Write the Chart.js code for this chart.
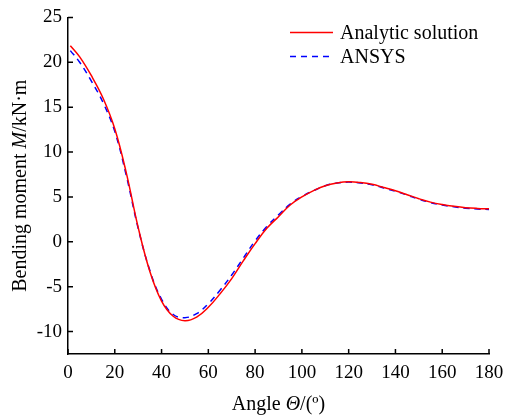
<!DOCTYPE html>
<html lang="en">
<head>
    <meta charset="UTF-8">
    <title>Bending moment vs angle</title>
    <style>
        body {
            margin: 0;
            padding: 0;
            background-color: #fff;
        }
        #chartContainer {
            width: 505px;
            height: 419px;
        }
    </style>
    <script src="https://cdn.jsdelivr.net/npm/chart.js"></script>
</head>
<body>
    <div id="chartContainer">
        <canvas id="momentChart" width="505" height="419"></canvas>
    </div>

    <script>
        // Data (angle in degrees, moment in kN·m)
        const angles = [1, 5, 10, 15, 20, 25, 30, 35, 40, 45, 50, 55, 60, 65, 70, 75, 80, 85, 90,
            95, 100, 105, 110, 115, 120, 125, 130, 135, 140, 145, 150, 155, 160, 165, 170, 175, 180];
        const analytic = [21.85, 20.6, 18.5, 16.0, 12.6, 7.6, 1.6, -3.3, -6.6, -8.3, -8.8, -8.4, -7.3,
            -5.8, -4.1, -2.1, -0.2, 1.5, 2.8, 4.1, 5.0, 5.7, 6.25, 6.55, 6.68, 6.6, 6.4, 6.05, 5.68,
            5.25, 4.8, 4.42, 4.15, 3.95, 3.8, 3.72, 3.68];
        const ansys = [21.3, 20.0, 17.9, 15.5, 12.3, 7.3, 1.5, -3.2, -6.4, -8.1, -8.45, -8.0, -6.9,
            -5.4, -3.7, -1.8, 0.1, 1.7, 3.0, 4.2, 5.05, 5.7, 6.25, 6.55, 6.65, 6.55, 6.35, 6.0, 5.63,
            5.2, 4.75, 4.37, 4.1, 3.9, 3.75, 3.65, 3.6];
        const xTicks = [0, 20, 40, 60, 80, 100, 120, 140, 160, 180];
        const yTicks = [-10, -5, 0, 5, 10, 15, 20, 25];

        const serif = '"Liberation Serif", "Times New Roman", serif';
        Chart.defaults.font.family = serif;
        Chart.defaults.color = '#000';

        // tick marks pointing into the plot
        const innerTicks = {
            id: 'innerTicks',
            afterDraw(chart) {
                const { ctx, chartArea, scales } = chart;
                ctx.save();
                ctx.strokeStyle = '#000';
                ctx.lineWidth = 1.5;
                ctx.beginPath();
                scales.x.ticks.forEach(t => {
                    const px = scales.x.getPixelForValue(t.value);
                    ctx.moveTo(px, chartArea.bottom);
                    ctx.lineTo(px, chartArea.bottom - 5);
                });
                scales.y.ticks.forEach(t => {
                    const py = scales.y.getPixelForValue(t.value);
                    ctx.moveTo(chartArea.left, py);
                    ctx.lineTo(chartArea.left + 5, py);
                });
                ctx.stroke();
                ctx.restore();
            }
        };

        // text with italic symbols, centered at x
        function drawRich(ctx, parts, x, y) {
            const widths = parts.map(p => {
                ctx.font = p.font;
                return ctx.measureText(p.text).width;
            });
            const total = widths.reduce((a, b) => a + b, 0);
            let cx = x - total / 2;
            parts.forEach((p, i) => {
                ctx.font = p.font;
                ctx.fillText(p.text, cx, y);
                cx += widths[i];
            });
        }

        const axisTitles = {
            id: 'axisTitles',
            afterDraw(chart) {
                const { ctx, chartArea } = chart;
                const normal = `20px ${serif}`;
                const italic = `italic 20px ${serif}`;
                ctx.save();
                ctx.fillStyle = '#000';
                ctx.textBaseline = 'middle';
                ctx.textAlign = 'left';
                drawRich(ctx, [
                    { text: 'Angle ', font: normal },
                    { text: 'Θ', font: italic },
                    { text: '/(º)', font: normal }
                ], (chartArea.left + chartArea.right) / 2, chart.height - 14);

                ctx.translate(21, (chartArea.top + chartArea.bottom) / 2);
                ctx.rotate(-Math.PI / 2);
                drawRich(ctx, [
                    { text: 'Bending moment ', font: normal },
                    { text: 'M', font: italic },
                    { text: '/kN·m', font: normal }
                ], 0, 0);
                ctx.restore();
            }
        };

        // legend inside the plot, top right
        const insideLegend = {
            id: 'insideLegend',
            afterDraw(chart) {
                const { ctx, chartArea } = chart;
                ctx.save();
                ctx.font = `20px ${serif}`;
                ctx.textBaseline = 'middle';
                ctx.textAlign = 'left';
                chart.data.datasets.forEach((ds, i) => {
                    const y = chartArea.top + 15 + i * 24;
                    const x0 = chartArea.left + 222;
                    ctx.strokeStyle = ds.borderColor;
                    ctx.lineWidth = ds.borderWidth;
                    ctx.setLineDash(ds.borderDash || []);
                    ctx.beginPath();
                    ctx.moveTo(x0, y);
                    ctx.lineTo(x0 + 43, y);
                    ctx.stroke();
                    ctx.fillStyle = '#000';
                    ctx.fillText(ds.label, x0 + 50, y + 1);
                });
                ctx.restore();
            }
        };

        const ctx = document.getElementById('momentChart').getContext('2d');
        new Chart(ctx, {
            type: 'line',
            data: {
                datasets: [{
                    label: 'Analytic solution',
                    data: angles.map((a, i) => ({ x: a, y: analytic[i] })),
                    borderColor: 'rgb(255, 0, 0)',
                    borderWidth: 1.5,
                    pointRadius: 0,
                    tension: 0.4
                }, {
                    label: 'ANSYS',
                    data: angles.map((a, i) => ({ x: a, y: ansys[i] })),
                    borderColor: 'rgb(0, 0, 255)',
                    borderWidth: 1.5,
                    borderDash: [6, 5],
                    pointRadius: 0,
                    tension: 0.4
                }]
            },
            options: {
                responsive: false,
                animation: false,
                devicePixelRatio: 1,
                layout: { padding: { top: 16, right: 0, left: 0, bottom: 0 } },
                scales: {
                    x: {
                        type: 'linear',
                        min: 0,
                        max: 180,
                        afterBuildTicks: s => { s.ticks = xTicks.map(v => ({ value: v })); },
                        afterFit: s => {
                            s.height = 65;
                            s.paddingRight = 16;
                        },
                        grid: { display: false, drawTicks: false },
                        border: { display: true, color: '#000', width: 1.5 },
                        ticks: { font: { size: 19 }, padding: 8, maxRotation: 0 }
                    },
                    y: {
                        type: 'linear',
                        min: -12.5,
                        max: 25,
                        afterBuildTicks: s => { s.ticks = yTicks.map(v => ({ value: v })); },
                        afterFit: s => { s.width = 68; },
                        grid: { display: false, drawTicks: false },
                        border: { display: true, color: '#000', width: 1.5 },
                        ticks: { font: { size: 19 }, padding: 6 }
                    }
                },
                plugins: {
                    legend: { display: false },
                    tooltip: { enabled: false }
                }
            },
            plugins: [innerTicks, axisTitles, insideLegend]
        });
    </script>
</body>
</html>
